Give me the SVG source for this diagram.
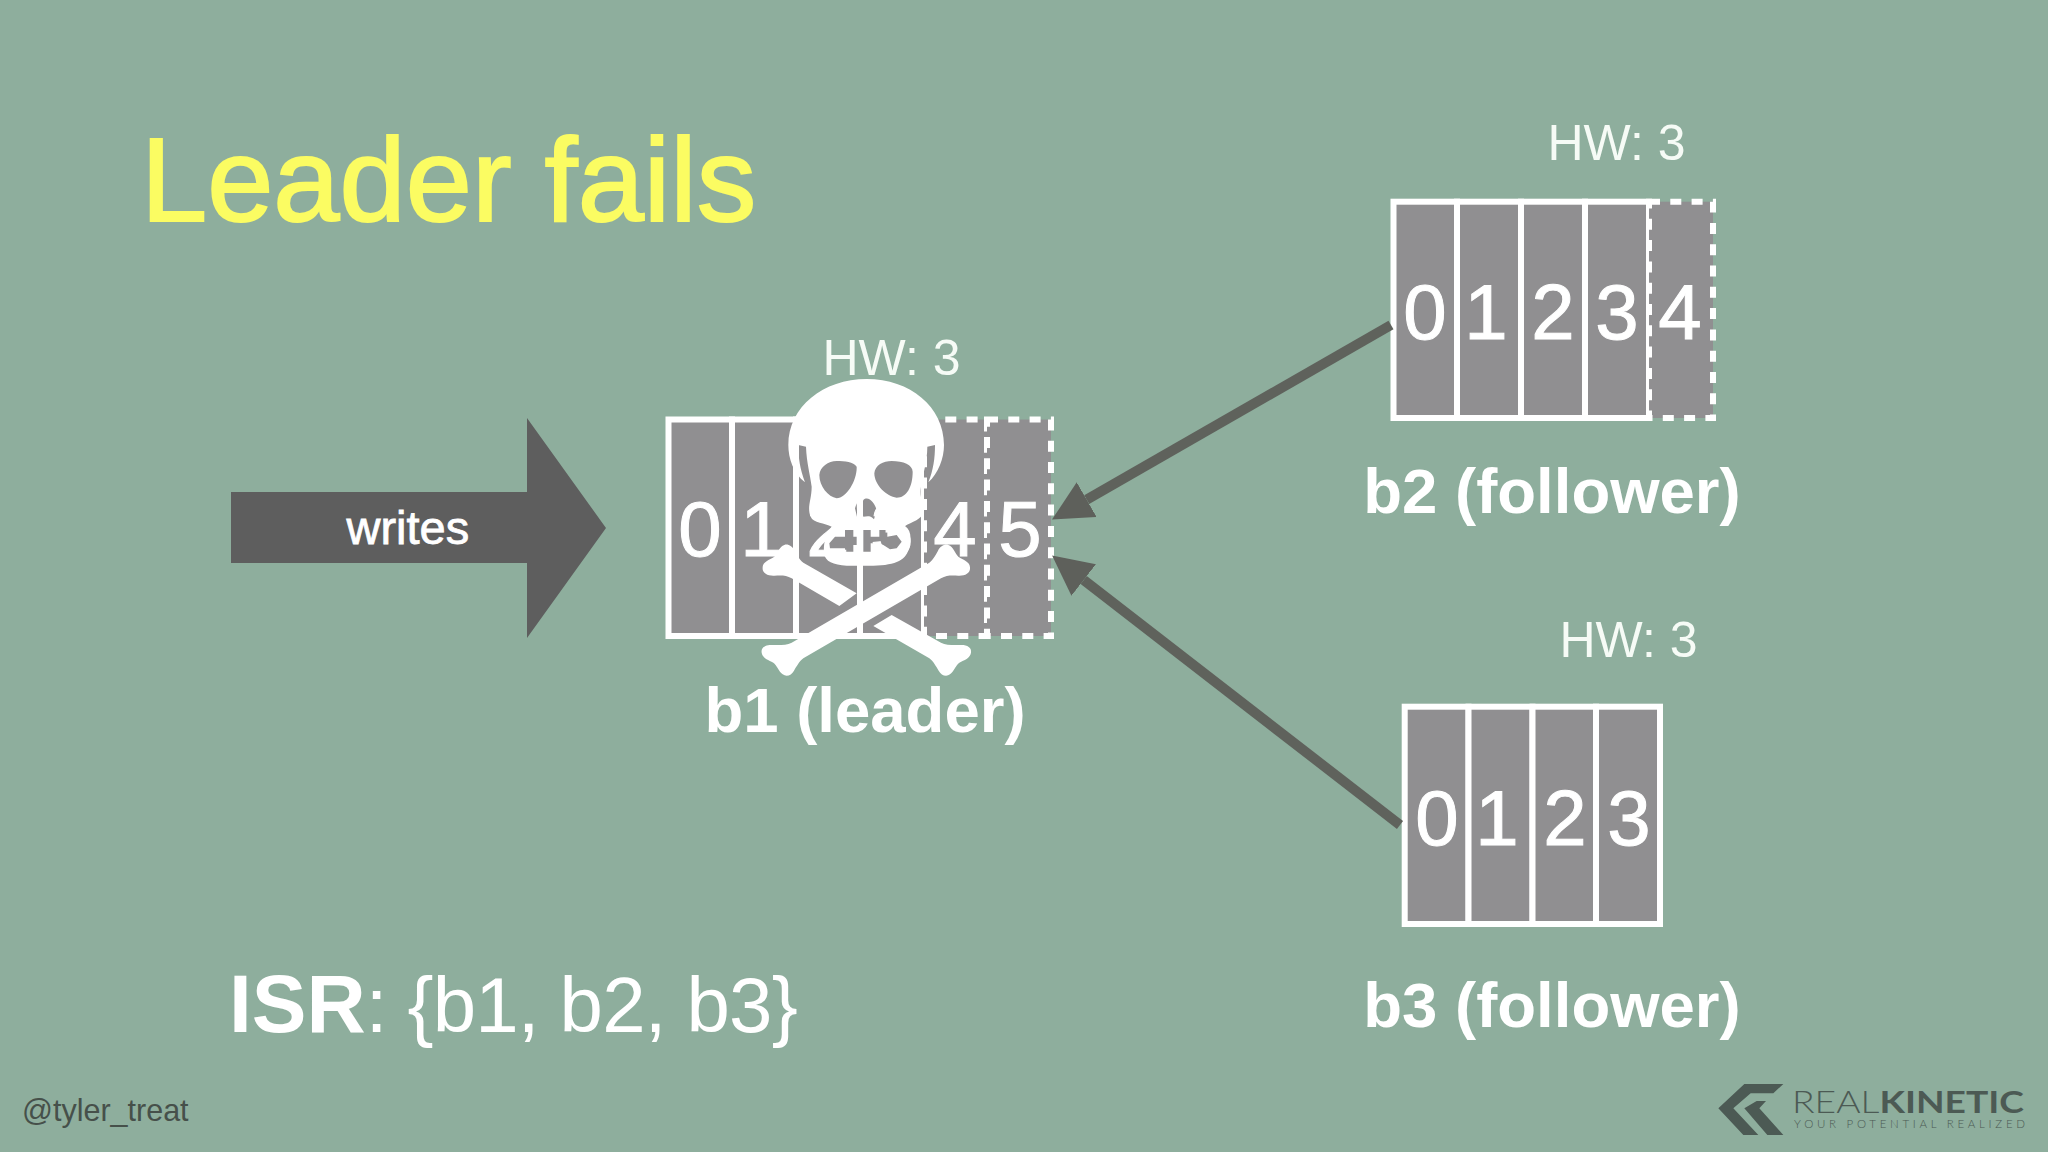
<svg xmlns="http://www.w3.org/2000/svg" width="2048" height="1152" viewBox="0 0 2048 1152">
<style>
text{font-family:"Liberation Sans",Arial,sans-serif;fill:#fff}
.title{font-size:119px;fill:#fbfc62;stroke:#fbfc62;stroke-width:2px}
.hw{font-size:50px;fill:#f6fbf6}
.digit{font-size:78px;text-anchor:middle;stroke:#fff;stroke-width:1px}
.label{font-size:63.5px;font-weight:700;text-anchor:middle}
.cell{fill:#908f91;stroke:#fff;stroke-width:6}
.dash{fill:#908f91;stroke:#fff;stroke-width:6;stroke-dasharray:11 10.3}
.conn{stroke:#5f625c;stroke-width:10;fill:none;marker-end:url(#head)}
.logo{fill:#4c5a54}
</style>
<defs>
<marker id="head" markerUnits="userSpaceOnUse" markerWidth="40" markerHeight="40" refX="0" refY="20" orient="auto" viewBox="0 0 40 40"><polygon points="0,0 40,20 0,40" fill="#5e605b"/></marker>
</defs>
<rect width="2048" height="1152" fill="#8eae9d"/>
<text id="title" class="title" x="141" y="220.5">Leader fails</text>
<g id="writes">
<polygon points="231,492 527,492 527,418 606,528 527,638 527,563 231,563" fill="#5e5e5e"/>
<text x="346.5" y="544" style="font-size:47px;stroke:#fff;stroke-width:.8px">writes</text>
</g>
<g id="b2">
<text class="hw" x="1547.5" y="160">HW: 3</text>
<rect class="cell" x="1393.5" y="201.7" width="63.5" height="216.3"/>
<rect class="cell" x="1457" y="201.7" width="64" height="216.3"/>
<rect class="cell" x="1521" y="201.7" width="64" height="216.3"/>
<rect class="cell" x="1585" y="201.7" width="64" height="216.3"/>
<rect class="dash" x="1649" y="201.7" width="64" height="216.3"/>
<text class="digit" x="1425" y="339">0</text>
<text class="digit" x="1486" y="339">1</text>
<text class="digit" x="1553" y="339">2</text>
<text class="digit" x="1617" y="339">3</text>
<text class="digit" x="1680" y="339">4</text>
<text class="label" x="1552" y="513">b2 (follower)</text>
</g>
<g id="b3">
<text class="hw" x="1559.5" y="657">HW: 3</text>
<rect class="cell" x="1404.7" y="706.7" width="63.8" height="217.3"/>
<rect class="cell" x="1468.5" y="706.7" width="64" height="217.3"/>
<rect class="cell" x="1532.5" y="706.7" width="63.5" height="217.3"/>
<rect class="cell" x="1596" y="706.7" width="64" height="217.3"/>
<text class="digit" x="1437" y="845">0</text>
<text class="digit" x="1497" y="845">1</text>
<text class="digit" x="1565" y="845">2</text>
<text class="digit" x="1629" y="845">3</text>
<text class="label" x="1552" y="1027">b3 (follower)</text>
</g>
<g id="b1">
<text class="hw" x="822.5" y="375">HW: 3</text>
<rect class="cell" x="668.5" y="419.5" width="63.5" height="216.5"/>
<rect class="cell" x="732" y="419.5" width="64" height="216.5"/>
<rect class="cell" x="796" y="419.5" width="64" height="216.5"/>
<rect class="cell" x="860" y="419.5" width="64" height="216.5"/>
<rect class="dash" x="924" y="419.5" width="63" height="216.5"/>
<rect class="dash" x="987" y="419.5" width="64" height="216.5"/>
<text class="digit" x="700" y="556">0</text>
<text class="digit" x="762" y="556">1</text>
<text class="digit" x="828" y="556">2</text>
<text class="digit" x="892" y="556">3</text>
<text class="digit" x="955" y="556">4</text>
<text class="digit" x="1020" y="556">5</text>
<text class="label" x="865" y="732">b1 (leader)</text>
</g>
<g id="skull" transform="translate(640,330) scale(0.33333)" fill="#fff">
<path fill-rule="evenodd" d="M680,147 C810,147 912,230 912,345 C912,385 895,430 865,457 C880,420 885,385 885,345 L862,350 C862,400 845,440 842,480 C840,505 852,530 850,545 C845,570 815,575 795,588 C812,600 815,620 808,650 C800,690 770,705 700,707 L620,707 C580,705 555,695 552,670 C550,640 555,620 575,590 C555,578 520,580 512,560 C500,530 515,510 515,470 C510,430 500,400 498,350 L475,345 C475,385 480,415 495,457 C460,430 445,385 445,345 C445,230 550,147 680,147 Z
M538,435 C540,410 565,393 590,393 C615,393 640,395 650,410 C652,450 620,505 590,505 C565,500 538,470 538,435 Z
M703,430 C705,405 730,393 755,393 C790,393 818,405 818,425 C818,470 800,503 770,503 C740,500 703,465 703,430 Z
M670,510 C685,495 705,520 710,540 L702,568 C690,555 680,560 670,560 C665,545 665,525 670,510 Z
M645,535 L650,520 L652,565 Z
M568,640 L585,620 L615,620 L615,600 L640,600 L640,620 L650,620 L650,645 L640,645 L640,665 L615,665 L615,655 L570,655 Z
M670,600 L692,600 L692,620 L718,620 L718,600 L742,600 L742,620 L770,615 L785,635 L770,655 L750,658 L730,645 L718,640 L692,640 L692,665 L670,665 Z"/>
<path d="M365,968 C362,950 380,943 400,945 C420,946 440,945 455,938 L868,698 C880,690 890,670 895,660 C900,650 915,640 925,645 C940,650 945,670 955,680 C970,690 990,695 990,712 C992,730 975,738 955,737 C935,736 920,735 903,745 L490,985 C478,993 470,1010 462,1022 C455,1035 440,1042 428,1033 C415,1022 410,1005 400,998 C385,990 368,985 365,968 Z"/>
<path d="M490,698 L650,790 L598,828 L455,745 C438,735 423,736 403,737 C383,738 366,730 368,712 C368,695 388,690 403,680 C413,670 418,650 433,645 C443,640 458,650 463,660 C468,670 478,690 490,698 Z"/>
<path d="M755,855 L903,938 C918,945 938,946 958,945 C978,943 996,950 993,968 C990,985 973,990 958,998 C948,1005 943,1022 930,1033 C918,1042 903,1035 896,1022 C888,1010 880,993 868,985 L700,888 Z"/>
</g>
<g id="connectors">
<line class="conn" x1="1391" y1="325" x2="1086.7" y2="499.7"/>
<line class="conn" x1="1400" y1="825" x2="1083.7" y2="580"/>
</g>
<text id="isr" x="229" y="1032" style="font-size:78px;letter-spacing:-.8px"><tspan font-weight="700" style="font-size:82px;letter-spacing:0">ISR</tspan>: {b1, b2, b3}</text>
<text id="handle" x="22" y="1121" style="font-size:30.5px;fill:#46504a">@tyler_treat</text>
<g id="logo">
<g transform="translate(1710,1075) scale(0.33333)" class="logo">
<polygon points="25,100 103,27 220,27 190,55 122,55 70,100 145,180 100,180"/>
<polygon points="103,100 140,78 168,78 148,100 220,180 172,180"/>
</g>
<text x="1792" y="1112.7" textLength="232" lengthAdjust="spacingAndGlyphs" style="font-family:Lato,sans-serif;font-size:31px;font-weight:300;fill:#4c5a54">REAL<tspan font-weight="700">KINETIC</tspan></text>
<text x="1794" y="1128" textLength="231" lengthAdjust="spacing" style="font-family:Lato,sans-serif;font-size:11.5px;font-weight:300;fill:#4c5a54">YOUR POTENTIAL REALIZED</text>
</g>
</svg>
